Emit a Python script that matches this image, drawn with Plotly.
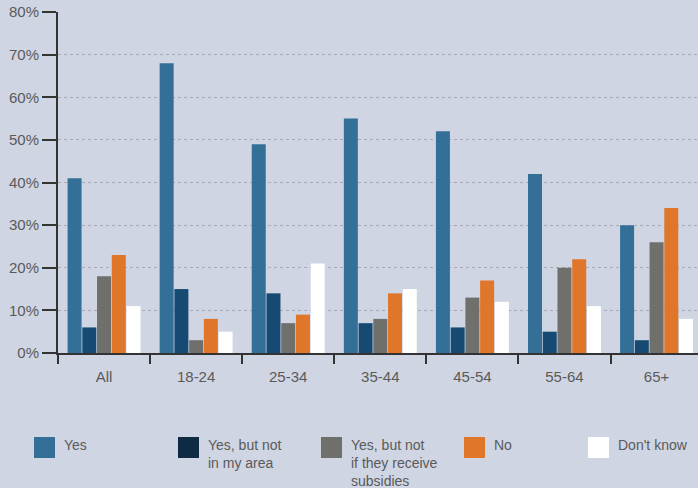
import plotly.graph_objects as go

# age groups and answers
groups = ['All', '18-24', '25-34', '35-44', '45-54', '55-64', '65+']
answers = ['Yes', 'Yes, but not<br>in my area', 'Yes, but not<br>if they receive<br>subsidies', 'No', "Don't know"]

yes = [41, 68, 49, 55, 52, 42, 30]
yes_not_area = [6, 15, 14, 7, 6, 5, 3]
yes_subsidies = [18, 3, 7, 8, 13, 20, 26]
no = [23, 8, 9, 14, 17, 22, 34]
dont_know = [11, 5, 21, 15, 12, 11, 8]

y_ticks = [0, 10, 20, 30, 40, 50, 60, 70, 80]

series = [yes, yes_not_area, yes_subsidies, no, dont_know]
bar_colors = ['#336F97', '#164A72', '#6F6F6C', '#E07629', '#FFFFFF']
legend_colors = ['#336F97', '#0F2A43', '#6F6F6C', '#E07629', '#FFFFFF']

bg = '#CFD5E3'
txt = '#5A5A5A'
font = 'Liberation Sans, Arial, sans-serif'

fig = go.Figure()
for name, vals, col in zip(answers, series, bar_colors):
    fig.add_trace(go.Bar(x=groups, y=vals, name=name, marker=dict(color=col, line=dict(width=0)),
                         showlegend=False))

# custom legend (big square swatches, multi-line labels)
L, R, T, B = 58, 0, 12, 135
W, H = 698 - L - R, 488 - T - B
def px(x):
    return (x - L) / W
def py(y):
    return (488 - B - y) / H

swatch_x = [34, 178, 321, 464, 588]
for sx, name, col in zip(swatch_x, answers, legend_colors):
    fig.add_shape(type='rect', xref='paper', yref='paper',
                  x0=px(sx), x1=px(sx + 21), y0=py(437), y1=py(458),
                  fillcolor=col, line=dict(width=0))
    fig.add_annotation(text=name, xref='paper', yref='paper', x=px(sx + 28), y=py(435),
                       xanchor='left', yanchor='top', showarrow=False, align='left',
                       font=dict(size=14, color=txt, family=font))

fig.update_layout(
    width=698, height=488,
    margin=dict(l=L, r=R, t=T, b=B),
    paper_bgcolor=bg, plot_bgcolor=bg,
    barmode='group', bargap=0.2, bargroupgap=0.05,
    font=dict(family=font, size=15, color=txt),
)
fig.update_xaxes(range=[-0.5, 6.45], tickson='boundaries', ticks='outside', ticklen=9,
                 tickwidth=2, tickcolor='#333333', showline=True, linecolor='#333333',
                 linewidth=2, showgrid=False, ticklabelstandoff=9,
                 tickfont=dict(size=15, color=txt))
fig.update_yaxes(range=[0, 80], tickvals=y_ticks, ticktext=[f'{v}%' for v in y_ticks],
                 ticks='outside', ticklen=14, tickwidth=2, tickcolor='#333333',
                 showline=True, linecolor='#333333', linewidth=2,
                 showgrid=True, gridcolor='#A6AAB4', gridwidth=1, griddash='3px,3px',
                 zeroline=False, tickfont=dict(size=15, color=txt))

fig.write_html('out.html', config={'displayModeBar': False},
               post_script="document.body.style.margin='0';document.body.style.overflow='hidden';")
